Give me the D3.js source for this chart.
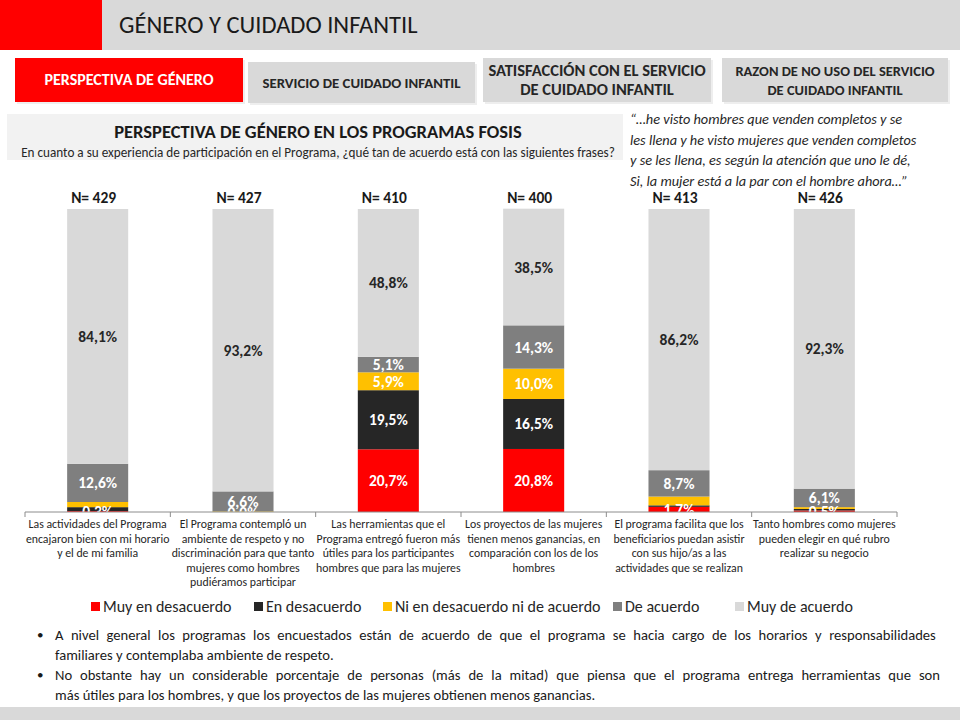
<!DOCTYPE html>
<html>
<head>
<meta charset="utf-8">
<script src="https://cdn.jsdelivr.net/npm/d3@7"></script>
<style>
  body { margin: 0; background: #fff; }
  svg { display: block; font-family: Carlito, "Liberation Sans", Arial, sans-serif; }
</style>
</head>
<body>
<div id="chart"></div>
<script>
// Chart data
const categories = [
  "Las actividades del Programa\nencajaron bien con mi horario\ny el de mi familia",
  "El Programa contempló un\nambiente de respeto y no\ndiscriminación para que tanto\nmujeres como hombres\npudiéramos  participar",
  "Las herramientas que el\nPrograma entregó fueron más\nútiles para los participantes\nhombres que para las mujeres",
  "Los proyectos de las mujeres\ntienen menos ganancias, en\ncomparación con los de los\nhombres",
  "El programa facilita que los\nbeneficiarios puedan asistir\ncon sus hijo/as a las\nactividades que se realizan",
  "Tanto hombres como mujeres\npueden elegir en qué rubro\nrealizar su negocio"
];
const sampleSizes = [429, 427, 410, 400, 413, 426];
const seriesNames = ["Muy en desacuerdo", "En desacuerdo", "Ni en desacuerdo ni de acuerdo", "De acuerdo", "Muy de acuerdo"];
const muyEnDesacuerdo = [0.3, 0.0, 20.7, 20.8, 1.7, 0.5];
const enDesacuerdo    = [1.3, 0.0, 19.5, 16.5, 0.5, 0.5];
const niNi            = [1.7, 0.2, 5.9, 10.0, 2.9, 0.6];
const deAcuerdo       = [12.6, 6.6, 5.1, 14.3, 8.7, 6.1];
const muyDeAcuerdo    = [84.1, 93.2, 48.8, 38.5, 86.2, 92.3];
const colors = ["#FF0000", "#262626", "#FFC000", "#7F7F7F", "#D9D9D9"];

const seriesValues = [muyEnDesacuerdo, enDesacuerdo, niNi, deAcuerdo, muyDeAcuerdo];
const rows = categories.map((c, i) => {
  const r = { cat: c };
  seriesNames.forEach((s, j) => r[s] = seriesValues[j][i]);
  return r;
});

const width = 960, height = 720;
const svg = d3.select("#chart").append("svg")
  .attr("width", width).attr("height", height);

// ---- header ----
svg.append("rect").attr("x", 0).attr("y", 0).attr("width", width).attr("height", 50).attr("fill", "#D9D9D9");
svg.append("rect").attr("x", 0).attr("y", 0).attr("width", 102).attr("height", 50).attr("fill", "#FF0000");
svg.append("text").attr("x", 119).attr("y", 33).attr("font-size", 24.5).attr("fill", "#1a1a1a")
  .text("GÉNERO Y CUIDADO INFANTIL");

const tabs = [
  { x: 15, y: 58, w: 228, h: 44, fill: "#FF0000", color: "#fff", lines: ["PERSPECTIVA DE GÉNERO"], size: 16 },
  { x: 248, y: 62, w: 227, h: 41, fill: "#D9D9D9", color: "#262626", lines: ["SERVICIO DE CUIDADO INFANTIL"], size: 14.8 },
  { x: 483, y: 58, w: 228, h: 44, fill: "#D9D9D9", color: "#262626", lines: ["SATISFACCIÓN CON EL SERVICIO", "DE CUIDADO INFANTIL"], size: 16.5 },
  { x: 722, y: 58, w: 226, h: 44, fill: "#D9D9D9", color: "#262626", lines: ["RAZON DE NO USO DEL SERVICIO", "DE CUIDADO INFANTIL"], size: 14.5 }
];
tabs.forEach(t => {
  svg.append("rect").attr("x", t.x + 2).attr("y", t.y + 2).attr("width", t.w).attr("height", t.h).attr("fill", "#eee");
  svg.append("rect").attr("x", t.x).attr("y", t.y).attr("width", t.w).attr("height", t.h).attr("fill", t.fill);
  const tx = svg.append("text").attr("text-anchor", "middle").attr("font-weight", "bold")
    .attr("font-size", t.size).attr("fill", t.color);
  const n = t.lines.length;
  t.lines.forEach((l, i) => {
    tx.append("tspan").attr("x", t.x + t.w / 2)
      .attr("y", t.y + t.h / 2 + 5 + (i - (n - 1) / 2) * 19).text(l);
  });
});

// ---- chart title box ----
svg.append("rect").attr("x", 7).attr("y", 114).attr("width", 616).attr("height", 46).attr("fill", "#F2F2F2");
svg.append("text").attr("x", 318).attr("y", 138).attr("text-anchor", "middle").attr("font-weight", "bold")
  .attr("font-size", 18.5).attr("fill", "#1a1a1a").text("PERSPECTIVA DE GÉNERO EN LOS PROGRAMAS FOSIS");
svg.append("text").attr("x", 318).attr("y", 157).attr("text-anchor", "middle")
  .attr("font-size", 13.2).attr("fill", "#262626")
  .text("En cuanto a su experiencia de participación en el Programa, ¿qué tan de acuerdo está con las siguientes frases?");

// ---- quote ----
const quote = [
  "“…he visto hombres que venden completos y se",
  "les llena y he visto mujeres que venden completos",
  "y se les llena, es según la atención que uno le dé,",
  "Si, la mujer está a la par con el hombre ahora…”"
];
const q = svg.append("text").attr("font-style", "italic").attr("font-size", 14.3).attr("fill", "#262626");
quote.forEach((l, i) => q.append("tspan").attr("x", 630).attr("y", 124 + i * 20.5).text(l));

// ---- stacked bars ----
const x = d3.scaleBand().domain(categories).range([25, 897]).paddingInner(0.58).paddingOuter(0.29);
const y = d3.scaleLinear().domain([0, 100]).range([512, 209]);
const stack = d3.stack().keys(seriesNames)(rows);

svg.append("clipPath").attr("id", "plot")
  .append("rect").attr("x", 0).attr("y", 190).attr("width", width).attr("height", 322);

const fmt = v => d3.format(".1f")(v).replace(".", ",") + "%";

const layers = svg.append("g").selectAll("g").data(stack).enter().append("g")
  .attr("fill", (d, i) => colors[i]);
layers.selectAll("rect").data(d => d).enter().append("rect")
  .attr("x", d => x(d.data.cat))
  .attr("width", x.bandwidth())
  .attr("y", d => y(d[1]))
  .attr("height", d => y(d[0]) - y(d[1]));

const labels = svg.append("g").attr("clip-path", "url(#plot)");
stack.forEach((layer, si) => {
  labels.selectAll(null).data(layer.filter(d => si === 0 || (d[1] - d[0]) >= 4)).enter().append("text")
    .attr("x", d => x(d.data.cat) + x.bandwidth() / 2)
    .attr("y", d => (y(d[0]) + y(d[1])) / 2 + 5.5)
    .attr("text-anchor", "middle").attr("font-weight", "bold").attr("font-size", 15.5)
    .attr("fill", si === 4 ? "#262626" : "#fff")
    .text(d => fmt(d[1] - d[0]));
});

// N labels
svg.append("g").selectAll("text").data(categories).enter().append("text")
  .attr("x", d => x(d) + x.bandwidth() / 2 - 4)
  .attr("y", 203)
  .attr("text-anchor", "middle").attr("font-weight", "bold").attr("font-size", 15.5).attr("fill", "#1a1a1a")
  .text((d, i) => "N= " + sampleSizes[i]);

// x axis
const xAxis = svg.append("g").attr("transform", "translate(0,512)");
xAxis.append("line").attr("x1", 25).attr("x2", 897).attr("stroke", "#8c8c8c");
const bounds = categories.map(c => x(c) - x.step() * x.paddingInner() / 2).concat([897]);
xAxis.selectAll("line.tick").data(bounds).enter().append("line").attr("class", "tick")
  .attr("x1", d => d).attr("x2", d => d).attr("y1", 0).attr("y2", 5).attr("stroke", "#8c8c8c");
categories.forEach(c => {
  const t = xAxis.append("text").attr("text-anchor", "middle").attr("font-size", 11.8).attr("fill", "#262626");
  c.split("\n").forEach((l, i) => {
    t.append("tspan").attr("x", x(c) + x.bandwidth() / 2).attr("y", 16 + i * 14.5).text(l);
  });
});

// legend
const legendX = [91, 254, 383, 613, 735];
const lg = svg.append("g").attr("transform", "translate(0,607)");
seriesNames.forEach((s, i) => {
  lg.append("rect").attr("x", legendX[i]).attr("y", -5).attr("width", 9).attr("height", 9).attr("fill", colors[i]);
  lg.append("text").attr("x", legendX[i] + 12).attr("y", 5).attr("font-size", 16).attr("fill", "#262626").text(s);
});

// bullets
const bullets = [
  ["A nivel general los programas los encuestados están de acuerdo de que el programa se hacia cargo de los horarios  y responsabilidades",
   "familiares y contemplaba ambiente de respeto."],
  ["No obstante hay un considerable porcentaje de personas (más de la mitad) que piensa que el programa entrega herramientas que son",
   "más útiles para los hombres, y que los proyectos de las mujeres obtienen menos ganancias."]
];
bullets.forEach((b, bi) => {
  const by = 640 + bi * 40;
  svg.append("text").attr("x", 37).attr("y", by - 1).attr("font-size", 13).attr("fill", "#1a1a1a").text("•");
  b.forEach((l, li) => {
    const t = svg.append("text").attr("x", 55).attr("y", by + li * 19.5).attr("font-size", 14.6).attr("fill", "#1a1a1a").text(l);
    if (li === 0) {
      // justify the first line by widening word gaps
      const natural = t.node().getComputedTextLength();
      const gaps = l.split(" ").length - 1;
      t.attr("word-spacing", Math.max(0, (885 - natural) / gaps));
    }
  });
});

// bottom band
svg.append("rect").attr("x", 0).attr("y", 707).attr("width", width).attr("height", 13).attr("fill", "#D9D9D9");
</script>
</body>
</html>
